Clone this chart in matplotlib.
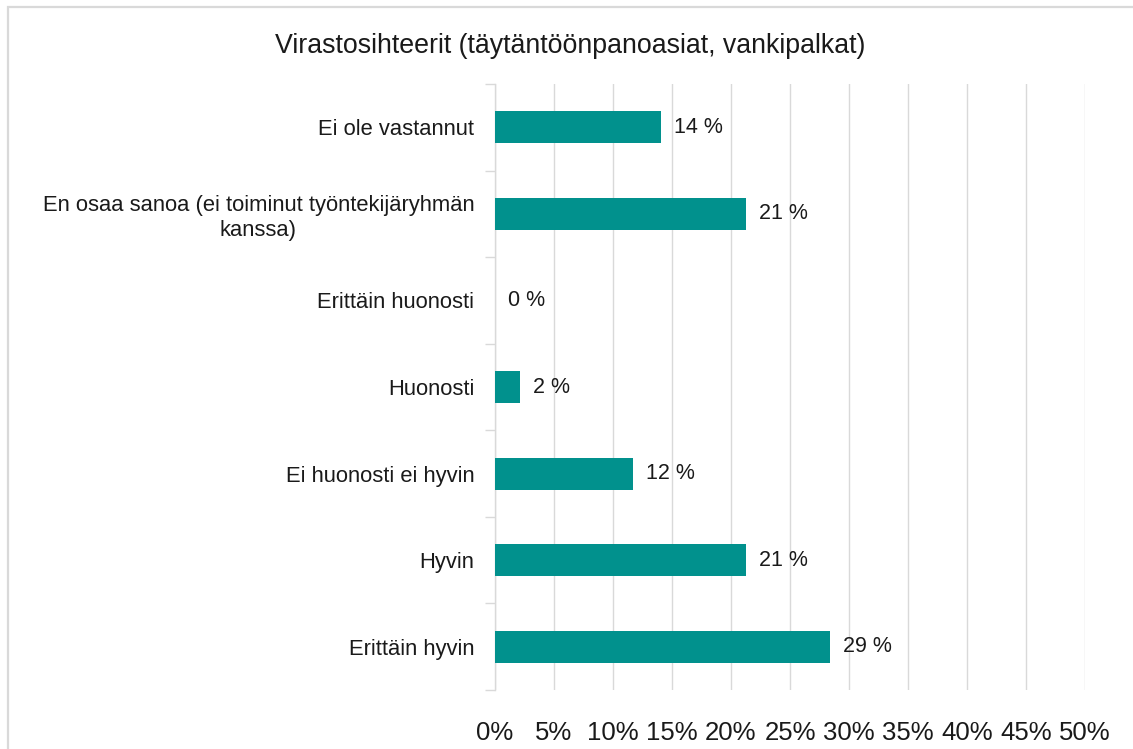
import matplotlib
matplotlib.use("Agg")
import matplotlib.pyplot as plt
from matplotlib.patches import Rectangle
from matplotlib.ticker import FixedLocator

plt.rcParams['font.family'] = ['Liberation Sans', 'DejaVu Sans']

title = "Virastosihteerit (täytäntöönpanoasiat, vankipalkat)"
categories = ["Ei ole vastannut",
              "En osaa sanoa (ei toiminut työntekijäryhmän\nkanssa)",
              "Erittäin huonosti",
              "Huonosti",
              "Ei huonosti ei hyvin",
              "Hyvin",
              "Erittäin hyvin"]
values = [14.1, 21.3, 0.0, 2.1, 11.7, 21.3, 28.4]
value_labels = ["14 %", "21 %", "0 %", "2 %", "12 %", "21 %", "29 %"]
xticks = [0, 5, 10, 15, 20, 25, 30, 35, 40, 45, 50]
xtick_labels = ["%d%%" % t for t in xticks]

bar_color = "#01918d"
grid_color = "#d9d9d9"

W, H = 1133, 749
fig = plt.figure(figsize=(W / 100, H / 100), dpi=100)
ax = fig.add_axes([495 / W, 1 - 690 / H, 590 / W, 606 / H])

# outer border (only top/left visible in the reference)
fig.patches.append(Rectangle((8 / W, -0.1), 1.2, 1.1 - 7 / H, transform=fig.transFigure,
                             fill=False, edgecolor=grid_color, linewidth=1.6))

ypos = list(range(len(categories)))
ax.barh(ypos, values, height=0.37, color=bar_color, linewidth=0, zorder=3)
for y, v, lab in zip(ypos, values, value_labels):
    ax.text(v + 1.1, y, lab, va="center", ha="left", fontsize=15.5, color="#1a1a1a")

ax.set_ylim(len(categories) - 0.5, -0.5)
ax.set_xlim(0, 50)
ax.set_yticks(ypos)
ax.set_yticklabels(categories, fontsize=15.8, color="#1a1a1a", ha="right", multialignment="center")
ax.yaxis.set_minor_locator(FixedLocator([i + 0.5 for i in range(-1, len(categories))]))
ax.tick_params(axis="y", which="major", length=0, pad=15)
ax.tick_params(axis="y", which="minor", length=7, color=grid_color, width=1)

ax.set_xticks(xticks)
ax.set_xticklabels(xtick_labels, fontsize=18.5, color="#1a1a1a")
ax.tick_params(axis="x", length=0, pad=22)
ax.xaxis.grid(True, color=grid_color, linewidth=1, zorder=0)
ax.set_axisbelow(True)

for s in ["top", "right", "bottom"]:
    ax.spines[s].set_visible(False)
ax.spines["left"].set_color(grid_color)
ax.spines["left"].set_linewidth(1)

fig.text(570 / W, 1 - 46 / H, title, ha="center", va="center", fontsize=19.3, color="#1a1a1a")

fig.savefig("out.png", dpi=100)
